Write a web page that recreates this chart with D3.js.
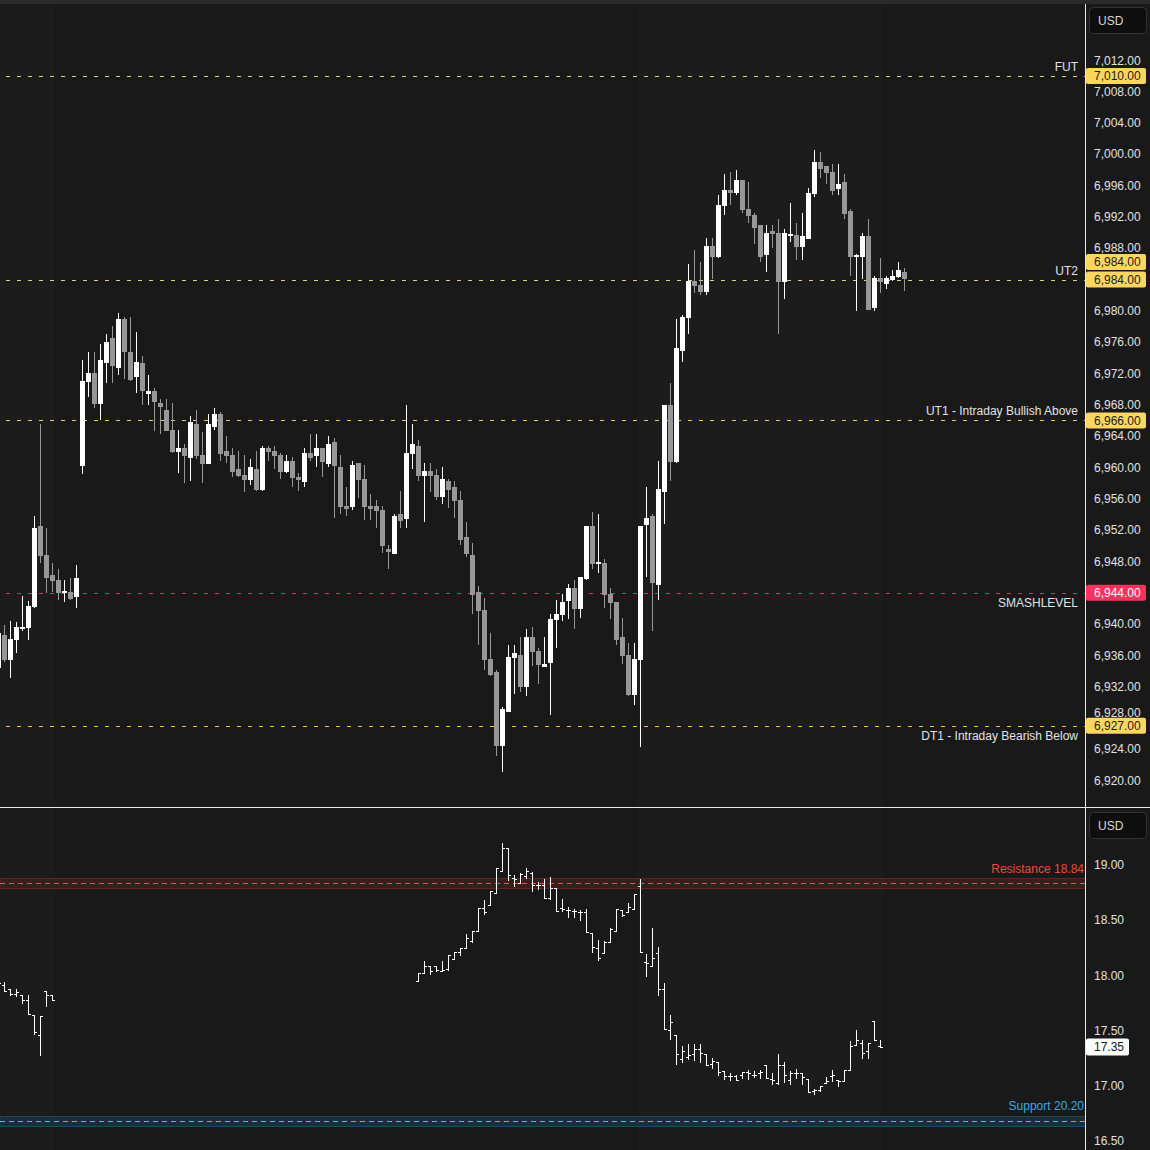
<!DOCTYPE html>
<html>
<head>
<meta charset="utf-8">
<title>Price levels with volatility panel</title>
<script src="https://cdn.jsdelivr.net/npm/d3@7"></script>
<style>
  body { margin: 0; padding: 0; background: #191919; }
  svg text { font-family: 'Liberation Sans', Arial, sans-serif; font-size: 12px; }
</style>
</head>
<body>
<div id="vis"></div>
<script>
// ---- data ----
var firstBar = -1; // index of the first (half visible) candle

var openP = [
  6934.4, 6938.6, 6935.4, 6938.0, 6939.5, 6939.5, 6942.2, 6952.5, 6948.8, 6946.3,
  6945.6, 6944.0, 6944.1, 6943.5, 6960.2, 6970.9, 6972.1, 6968.1, 6973.4, 6976.5,
  6972.7, 6979.0, 6974.7, 6971.5, 6973.3, 6969.4, 6969.8, 6968.2, 6967.3, 6964.8,
  6962.0, 6962.5, 6961.2, 6965.5, 6961.6, 6960.4, 6965.2, 6966.8, 6962.1, 6961.6,
  6959.8, 6959.0, 6958.4, 6959.8, 6957.1, 6962.5, 6962.1, 6961.6, 6959.4, 6960.8,
  6958.8, 6958.1, 6961.8, 6961.5, 6962.5, 6960.4, 6963.2, 6960.1, 6955.1, 6954.9,
  6960.6, 6958.5, 6955.1, 6955.1, 6954.6, 6949.6, 6948.9, 6954.1, 6953.4, 6961.7,
  6962.7, 6958.9, 6959.5, 6959.0, 6956.2, 6958.3, 6957.5, 6955.8, 6951.1, 6948.8,
  6944.1, 6941.8, 6935.5, 6933.9, 6924.4, 6928.8, 6935.7, 6936.0, 6932.0, 6938.3,
  6936.6, 6934.5, 6935.0, 6940.5, 6941.2, 6942.9, 6944.6, 6941.9, 6945.8, 6952.5,
  6947.8, 6947.8, 6943.8, 6942.8, 6938.3, 6936.0, 6930.9, 6935.4, 6952.6, 6953.8,
  6945.0, 6956.9, 6968.0, 6960.7, 6974.9, 6979.1, 6983.8, 6983.3, 6982.4, 6988.3,
  6986.9, 6993.4, 6995.4, 6995.0, 6996.7, 6993.0, 6992.2, 6991.0, 6987.1, 6990.2,
  6989.9, 6983.7, 6989.7, 6989.7, 6988.1, 6989.2, 6994.9, 6999.0, 6998.5, 6997.7,
  6995.6, 6996.5, 6992.8, 6987.0, 6986.9, 6989.6, 6980.4, 6984.2, 6983.4, 6983.9,
  6984.3, 6985.0
];
var highP = [
  6939.2, 6939.9, 6940.4, 6940.2, 6943.6, 6942.9, 6953.8, 6965.5, 6952.3, 6947.8,
  6947.0, 6945.6, 6945.9, 6947.5, 6973.7, 6974.7, 6974.7, 6975.8, 6977.0, 6978.1,
  6979.7, 6979.2, 6979.2, 6977.3, 6974.2, 6971.8, 6970.1, 6968.7, 6968.7, 6968.2,
  6964.8, 6963.0, 6966.6, 6967.3, 6964.5, 6966.8, 6967.6, 6967.1, 6964.0, 6962.5,
  6962.1, 6961.6, 6961.1, 6962.1, 6962.7, 6962.7, 6962.7, 6961.8, 6961.6, 6961.3,
  6959.3, 6962.5, 6964.3, 6964.3, 6962.5, 6964.0, 6963.8, 6961.6, 6957.5, 6960.8,
  6960.6, 6960.3, 6956.6, 6955.8, 6955.1, 6950.1, 6954.1, 6957.0, 6968.0, 6965.5,
  6963.5, 6960.6, 6960.6, 6959.8, 6960.1, 6958.5, 6958.3, 6957.0, 6953.0, 6950.3,
  6944.9, 6943.3, 6938.8, 6934.1, 6929.4, 6937.3, 6937.3, 6938.3, 6939.4, 6939.6,
  6937.0, 6938.3, 6941.3, 6943.1, 6943.8, 6945.1, 6945.6, 6946.0, 6952.5, 6954.3,
  6954.1, 6948.3, 6944.6, 6942.8, 6940.8, 6937.6, 6937.6, 6952.5, 6957.5, 6954.1,
  6960.8, 6968.0, 6970.8, 6979.0, 6979.5, 6986.0, 6987.8, 6986.2, 6989.3, 6989.3,
  6994.8, 6997.5, 6997.7, 6998.0, 6996.7, 6996.5, 6992.5, 6991.0, 6991.0, 6991.0,
  6991.7, 6990.5, 6993.8, 6991.2, 6992.5, 6995.7, 7000.5, 7000.3, 6998.5, 6998.8,
  6998.8, 6997.5, 6993.0, 6987.3, 6989.9, 6991.7, 6984.5, 6986.7, 6984.5, 6985.2,
  6986.2, 6985.5
];
var lowP = [
  6933.1, 6935.2, 6933.1, 6936.3, 6939.1, 6937.9, 6942.0, 6947.8, 6944.0, 6944.1,
  6943.1, 6942.8, 6943.1, 6942.0, 6959.1, 6969.0, 6967.6, 6966.1, 6970.8, 6970.8,
  6971.8, 6971.3, 6971.1, 6969.5, 6968.0, 6968.0, 6964.6, 6964.3, 6964.6, 6961.8,
  6959.3, 6958.0, 6958.3, 6961.1, 6958.0, 6960.4, 6964.8, 6960.8, 6960.6, 6958.8,
  6958.8, 6956.9, 6957.8, 6957.0, 6957.0, 6960.8, 6959.8, 6958.5, 6959.3, 6957.5,
  6957.0, 6957.5, 6960.8, 6960.1, 6958.8, 6960.1, 6953.5, 6954.1, 6953.8, 6954.6,
  6956.1, 6953.3, 6953.3, 6952.3, 6949.1, 6947.0, 6948.9, 6952.3, 6952.3, 6959.8,
  6958.3, 6953.0, 6956.9, 6955.8, 6955.3, 6954.8, 6953.5, 6950.1, 6948.6, 6941.3,
  6937.3, 6934.1, 6933.4, 6923.1, 6921.1, 6928.8, 6931.1, 6931.3, 6930.8, 6934.6,
  6932.3, 6934.5, 6928.4, 6937.0, 6940.4, 6940.6, 6939.4, 6940.8, 6945.6, 6947.0,
  6946.5, 6942.0, 6940.6, 6937.3, 6934.9, 6930.8, 6929.7, 6924.3, 6946.0, 6939.1,
  6943.1, 6952.8, 6958.3, 6960.6, 6973.5, 6977.0, 6982.3, 6982.0, 6982.0, 6984.1,
  6986.7, 6992.2, 6993.5, 6994.8, 6992.5, 6991.2, 6988.5, 6986.2, 6985.0, 6988.0,
  6977.0, 6981.5, 6988.8, 6986.5, 6986.5, 6989.2, 6994.5, 6997.0, 6996.2, 6994.8,
  6994.8, 6991.7, 6984.5, 6980.0, 6984.1, 6980.1, 6980.0, 6982.3, 6982.8, 6983.8,
  6984.2, 6982.5
];
var closeP = [
  6938.8, 6935.4, 6938.1, 6939.6, 6939.6, 6942.3, 6952.3, 6948.7, 6945.9, 6945.5,
  6944.0, 6944.2, 6943.2, 6945.9, 6971.0, 6972.1, 6968.1, 6973.7, 6976.0, 6973.0,
  6979.0, 6974.7, 6971.2, 6973.5, 6969.7, 6969.8, 6968.4, 6967.7, 6964.7, 6962.0,
  6962.5, 6961.5, 6965.8, 6961.5, 6960.4, 6965.5, 6966.8, 6961.7, 6961.5, 6959.4,
  6958.9, 6958.4, 6960.1, 6957.1, 6962.5, 6962.0, 6961.5, 6959.4, 6960.8, 6958.6,
  6958.4, 6961.8, 6961.2, 6962.5, 6960.7, 6963.0, 6960.2, 6954.9, 6954.7, 6960.3,
  6958.4, 6954.9, 6954.7, 6954.4, 6950.0, 6949.2, 6953.8, 6953.2, 6961.8, 6963.0,
  6958.9, 6959.5, 6958.9, 6956.2, 6958.5, 6957.1, 6955.7, 6950.7, 6948.9, 6943.7,
  6941.7, 6935.4, 6933.5, 6924.4, 6929.2, 6935.8, 6936.3, 6932.0, 6938.3, 6936.4,
  6934.8, 6934.9, 6940.6, 6941.3, 6942.8, 6944.6, 6941.9, 6946.0, 6952.5, 6947.7,
  6947.9, 6943.7, 6942.7, 6938.0, 6935.9, 6930.9, 6935.5, 6952.5, 6953.5, 6945.2,
  6957.2, 6968.0, 6960.7, 6975.3, 6979.2, 6983.8, 6983.2, 6982.4, 6988.3, 6986.9,
  6993.5, 6995.4, 6995.0, 6996.7, 6992.9, 6992.1, 6990.6, 6986.9, 6989.9, 6989.8,
  6983.7, 6989.9, 6989.8, 6988.1, 6989.6, 6995.0, 6999.0, 6998.1, 6997.6, 6995.3,
  6996.2, 6992.4, 6986.9, 6987.1, 6989.6, 6980.1, 6984.2, 6983.7, 6984.2, 6984.5,
  6985.2, 6984.1
];

// volatility index bars, two stretches of bars where it traded
var vixStartA = -1;
var vixOpenA  = [17.94, 17.91, 17.88, 17.83, 17.82, 17.78, 17.64, 17.46, 17.86, 17.82];
var vixHighA  = [17.96, 17.94, 17.88, 17.88, 17.82, 17.82, 17.64, 17.63, 17.86, 17.82];
var vixLowA   = [17.90, 17.86, 17.82, 17.81, 17.75, 17.65, 17.47, 17.28, 17.72, 17.78];
var vixCloseA = [17.93, 17.86, 17.83, 17.85, 17.78, 17.65, 17.49, 17.63, 17.82, 17.78];

var vixStartB = 69;
var vixOpenB = [
  17.95, 18.02, 18.08, 18.08, 18.04, 18.06, 18.15, 18.21, 18.25, 18.31,
  18.40, 18.61, 18.64, 18.75, 18.95, 19.15, 18.88, 18.84, 18.90, 18.93,
  18.82, 18.82, 18.70, 18.79, 18.61, 18.59, 18.58, 18.57, 18.57, 18.38,
  18.25, 18.20, 18.30, 18.40, 18.59, 18.57, 18.60, 18.81, 18.12, 18.08,
  18.20, 17.88, 17.50, 17.46, 17.24, 17.26, 17.29, 17.33, 17.29, 17.20,
  17.21, 17.13, 17.09, 17.09, 17.10, 17.12, 17.10, 17.11, 17.19, 17.06,
  17.02, 17.19, 17.05, 17.11, 17.11, 17.06, 16.95, 16.96, 17.02, 17.09,
  17.05, 17.04, 17.14, 17.37, 17.39, 17.31, 17.59, 17.36
];
var vixHighB = [
  18.02, 18.13, 18.08, 18.08, 18.13, 18.18, 18.21, 18.25, 18.37, 18.40,
  18.61, 18.68, 18.76, 18.97, 19.20, 19.15, 18.91, 18.93, 18.97, 18.94,
  18.85, 18.87, 18.89, 18.79, 18.69, 18.62, 18.60, 18.59, 18.60, 18.38,
  18.32, 18.31, 18.43, 18.60, 18.59, 18.66, 18.74, 18.87, 18.19, 18.43,
  18.26, 17.93, 17.64, 17.46, 17.36, 17.38, 17.38, 17.38, 17.29, 17.25,
  17.21, 17.13, 17.11, 17.10, 17.12, 17.14, 17.13, 17.14, 17.19, 17.11,
  17.29, 17.21, 17.13, 17.15, 17.11, 17.06, 16.97, 17.00, 17.08, 17.14,
  17.05, 17.14, 17.40, 17.50, 17.41, 17.39, 17.59, 17.41
];
var vixLowB = [
  17.95, 18.02, 18.01, 18.04, 18.04, 18.05, 18.15, 18.18, 18.25, 18.30,
  18.40, 18.56, 18.64, 18.75, 18.95, 18.86, 18.81, 18.84, 18.88, 18.76,
  18.78, 18.70, 18.69, 18.58, 18.58, 18.53, 18.53, 18.50, 18.39, 18.21,
  18.14, 18.20, 18.30, 18.40, 18.54, 18.57, 18.60, 18.21, 17.99, 18.08,
  17.82, 17.51, 17.42, 17.20, 17.21, 17.24, 17.23, 17.21, 17.19, 17.16,
  17.10, 17.06, 17.05, 17.05, 17.07, 17.06, 17.08, 17.07, 17.07, 17.01,
  17.01, 17.03, 17.01, 17.07, 17.01, 16.94, 16.92, 16.95, 17.02, 17.04,
  17.00, 17.04, 17.14, 17.37, 17.25, 17.25, 17.41, 17.35
];
var vixCloseB = [
  18.02, 18.08, 18.04, 18.05, 18.05, 18.18, 18.21, 18.25, 18.34, 18.40,
  18.61, 18.57, 18.76, 18.97, 19.15, 18.91, 18.87, 18.92, 18.95, 18.82,
  18.82, 18.70, 18.79, 18.58, 18.60, 18.59, 18.58, 18.57, 18.39, 18.26,
  18.16, 18.30, 18.42, 18.60, 18.55, 18.62, 18.74, 18.21, 18.11, 18.16,
  17.88, 17.51, 17.58, 17.29, 17.31, 17.28, 17.33, 17.30, 17.19, 17.22,
  17.12, 17.09, 17.09, 17.05, 17.12, 17.11, 17.10, 17.12, 17.07, 17.05,
  17.19, 17.10, 17.11, 17.11, 17.08, 16.94, 16.96, 17.00, 17.04, 17.10,
  17.04, 17.14, 17.36, 17.41, 17.30, 17.39, 17.41, 17.35
];

// horizontal levels on the price panel
var levelNames  = ['FUT', 'UT2', 'UT1 - Intraday Bullish Above', 'SMASHLEVEL', 'DT1 - Intraday Bearish Below'];
var levelValues = [7010, 6984, 6966, 6944, 6927];
var tagValues   = [7010, 6984, 6984, 6966, 6944, 6927];

var priceTicks = d3.range(6920, 7013, 4);
var vixTicks   = [16.5, 17.0, 17.5, 18.0, 18.5, 19.0];

var resistanceValue = 18.84, resistanceLabel = 'Resistance 18.84';
var supportValue    = 16.68, supportLabel    = 'Support 20.20';
var lastVix = 17.35;

// bar ranges with the lighter session background
var sessionBands = [[-1, 8], [106, 146]];

// ---- layout ----
var W = 1150, H = 1150,
    axisX = 1085.5,
    sepY = 807.5,
    labelX = 1094;

var x = d3.scaleLinear().domain([0, 150]).range([4.3, 904.3]);
var y = d3.scaleLinear().domain([6920, 7012]).range([780.6, 60.3]);
var vy = d3.scaleLinear().domain([16.5, 19]).range([1140.75, 865]);

var fmtPrice = d3.format(',.2f'),
    fmtVix = d3.format('.2f');

var svg = d3.select('#vis').append('svg')
    .attr('width', W)
    .attr('height', H);

svg.append('rect').attr('width', W).attr('height', H).attr('fill', '#191919');

var defs = svg.append('defs');
defs.append('clipPath').attr('id', 'clipTop')
  .append('rect').attr('x', 0).attr('y', 4).attr('width', axisX).attr('height', sepY - 4);
defs.append('clipPath').attr('id', 'clipBot')
  .append('rect').attr('x', 0).attr('y', sepY + 1).attr('width', axisX).attr('height', H - sepY);

// session shading (both panels)
svg.append('g').selectAll('rect')
  .data(sessionBands)
  .enter().append('rect')
    .attr('x', function(d) { return Math.max(0, x(d[0]) - 3); })
    .attr('width', function(d) { return x(d[1]) + 3 - Math.max(0, x(d[0]) - 3); })
    .attr('y', 4)
    .attr('height', H - 4)
    .attr('fill', '#1c1c1c');

svg.append('rect').attr('x', 0).attr('y', 0).attr('width', W).attr('height', 4).attr('fill', '#2b2b2b');

// ---- price panel ----
var pricePanel = svg.append('g').attr('clip-path', 'url(#clipTop)');

var candles = d3.range(openP.length).map(function(j) {
  return { i: j + firstBar, o: openP[j], h: highP[j], l: lowP[j], c: closeP[j] };
});

// level lines
var levels = levelNames.map(function(n, k) { return { name: n, value: levelValues[k], k: k }; });
var levelColor = ['#e6d27e', '#e6d27e', '#e6cd6a', '#d93560', '#f2c53d'];

pricePanel.append('g').selectAll('line')
  .data(levels)
  .enter().append('line')
    .attr('x1', 6).attr('x2', axisX)
    .attr('y1', function(d) { return Math.round(y(d.value)) + 0.5; })
    .attr('y2', function(d) { return Math.round(y(d.value)) + 0.5; })
    .attr('stroke', function(d) { return levelColor[d.k]; })
    .attr('stroke-width', 1)
    .attr('stroke-dasharray', '4,7');

var cg = pricePanel.append('g').selectAll('g')
  .data(candles)
  .enter().append('g');

cg.append('rect')
  .attr('x', function(d) { return Math.floor(x(d.i)); })
  .attr('width', 1)
  .attr('y', function(d) { return Math.round(y(d.h)); })
  .attr('height', function(d) { return Math.max(1, Math.round(y(d.l)) - Math.round(y(d.h))); })
  .attr('fill', function(d) { return d.c >= d.o ? '#ffffff' : '#979797'; });

cg.append('rect')
  .attr('x', function(d) { return Math.floor(x(d.i)) - 2; })
  .attr('width', 5)
  .attr('y', function(d) { return Math.round(y(Math.max(d.o, d.c))); })
  .attr('height', function(d) {
    return Math.max(2, Math.round(y(Math.min(d.o, d.c))) - Math.round(y(Math.max(d.o, d.c))));
  })
  .attr('fill', function(d) { return d.c >= d.o ? '#ffffff' : '#979797'; });

// level names
pricePanel.append('g').selectAll('text')
  .data(levels)
  .enter().append('text')
    .attr('x', 1078)
    .attr('y', function(d) { return d.value < 6950 ? y(d.value) + 14.5 : y(d.value) - 5; })
    .attr('text-anchor', 'end')
    .attr('fill', '#e2e2e2')
    .text(function(d) { return d.name; });

// ---- volatility panel ----
var volPanel = svg.append('g').attr('clip-path', 'url(#clipBot)');

function bandLevel(v, fillC, strokeC, lineC) {
  var yy = vy(v);
  volPanel.append('rect')
    .attr('x', 0).attr('width', axisX)
    .attr('y', Math.round(yy) - 4.5).attr('height', 10)
    .attr('fill', fillC).attr('stroke', strokeC).attr('stroke-width', 1);
  volPanel.append('line')
    .attr('x1', 0).attr('x2', axisX)
    .attr('y1', Math.round(yy) + 0.5).attr('y2', Math.round(yy) + 0.5)
    .attr('stroke', lineC).attr('stroke-dasharray', '5,4');
}
bandLevel(resistanceValue, '#3b1d1d', '#5c2626', '#ff4b4b');
bandLevel(supportValue, '#1b2d38', '#24465a', '#3cc2f2');

volPanel.append('text')
  .attr('x', 1084).attr('y', vy(resistanceValue) - 9.5)
  .attr('text-anchor', 'end').attr('fill', '#ee4a40')
  .text(resistanceLabel);
volPanel.append('text')
  .attr('x', 1084).attr('y', vy(supportValue) - 11)
  .attr('text-anchor', 'end').attr('fill', '#3aaae2')
  .text(supportLabel);

function makeVix(start, o, h, l, c) {
  return o.map(function(v, k) { return { i: start + k, o: v, h: h[k], l: l[k], c: c[k] }; });
}
var vixBars = makeVix(vixStartA, vixOpenA, vixHighA, vixLowA, vixCloseA)
  .concat(makeVix(vixStartB, vixOpenB, vixHighB, vixLowB, vixCloseB));

var vg = volPanel.append('g').selectAll('g')
  .data(vixBars)
  .enter().append('g')
    .attr('fill', '#ffffff');

vg.append('rect')
  .attr('x', function(d) { return Math.floor(x(d.i)); })
  .attr('width', 1)
  .attr('y', function(d) { return Math.round(vy(d.h)); })
  .attr('height', function(d) { return Math.max(1, Math.round(vy(d.l)) - Math.round(vy(d.h)) + 1); });
vg.append('rect')
  .attr('x', function(d) { return Math.floor(x(d.i)) - 2; })
  .attr('width', 2).attr('height', 1)
  .attr('y', function(d) { return Math.round(vy(d.o)); });
vg.append('rect')
  .attr('x', function(d) { return Math.floor(x(d.i)) + 1; })
  .attr('width', 2).attr('height', 1)
  .attr('y', function(d) { return Math.round(vy(d.c)); });

// ---- separators ----
svg.append('line')
  .attr('x1', axisX).attr('x2', axisX).attr('y1', 4).attr('y2', H)
  .attr('stroke', '#e8e8e8');
svg.append('line')
  .attr('x1', 0).attr('x2', W).attr('y1', sepY).attr('y2', sepY)
  .attr('stroke', '#e8e8e8');

// ---- price axis ----
var axisTop = svg.append('g');
var tagColor = { 6944: '#f7325f' };
var tags = tagValues.map(function(v, k) {
  var off = (k > 0 && tagValues[k - 1] === v) ? -17.5 : 0;
  return { v: v, off: off };
});

// tick labels sit behind the tags; hide the part a tag covers
defs.append('clipPath').attr('id', 'clipTicks')
  .selectAll('rect')
  .data([[0, 4], [4, H]])
  .enter().append('rect')
    .attr('x', axisX).attr('width', W - axisX)
    .attr('y', function(d) { return d[0]; })
    .attr('height', function(d) { return d[1] - d[0]; });

axisTop.append('g').selectAll('text.tick')
  .data(priceTicks.filter(function(t) {
    // a label mostly hidden under a tag is drawn only where it peeks out
    return !tags.some(function(g) { return Math.abs(y(t) - (y(g.v) + g.off)) < 3; });
  }))
  .enter().append('text')
    .attr('class', 'tick')
    .attr('x', labelX)
    .attr('y', function(d) {
      var near = tags.filter(function(g) { return Math.abs(y(d) - (y(g.v) + g.off)) < 10; })[0];
      if (!near) return y(d);
      var ty = y(near.v) + near.off;
      return y(d) < ty ? Math.min(y(d), ty - 13) : Math.max(y(d), ty + 13);
    })
    .attr('dy', '0.35em')
    .attr('fill', '#e0e0e0')
    .text(function(d) { return fmtPrice(d); });

var tg = axisTop.selectAll('g.tag')
  .data(tags)
  .enter().append('g')
    .attr('class', 'tag')
    .attr('transform', function(d) { return 'translate(0,' + (y(d.v) + d.off) + ')'; });
tg.append('rect')
  .attr('x', axisX + 0.5).attr('y', -8).attr('width', 60).attr('height', 16).attr('rx', 2)
  .attr('fill', function(d) { return tagColor[d.v] || '#fdd662'; });
tg.append('text')
  .attr('x', labelX).attr('dy', '0.35em')
  .attr('fill', function(d) { return tagColor[d.v] ? '#ffffff' : '#1b1b1b'; })
  .text(function(d) { return fmtPrice(d.v); });

// ---- volatility axis ----
var axisBot = svg.append('g');
axisBot.selectAll('text.tick')
  .data(vixTicks)
  .enter().append('text')
    .attr('class', 'tick')
    .attr('x', labelX)
    .attr('y', function(d) { return vy(d); })
    .attr('dy', '0.35em')
    .attr('fill', '#e0e0e0')
    .text(function(d) { return fmtVix(d); });

axisBot.append('rect')
  .attr('x', axisX + 0.5).attr('y', vy(lastVix) - 8.5).attr('width', 43).attr('height', 17).attr('rx', 2)
  .attr('fill', '#ffffff');
axisBot.append('text')
  .attr('x', labelX).attr('y', vy(lastVix)).attr('dy', '0.35em')
  .attr('fill', '#141414')
  .text(fmtVix(lastVix));

// currency boxes
[7.5, 812.5].forEach(function(by) {
  svg.append('rect')
    .attr('x', 1089.5).attr('y', by).attr('width', 57).attr('height', 26).attr('rx', 4)
    .attr('fill', '#0e0e0e').attr('stroke', '#333333');
  svg.append('text')
    .attr('x', 1098).attr('y', by + 13.5).attr('dy', '0.35em')
    .attr('fill', '#d8d8d8')
    .text('USD');
});
</script>
</body>
</html>
